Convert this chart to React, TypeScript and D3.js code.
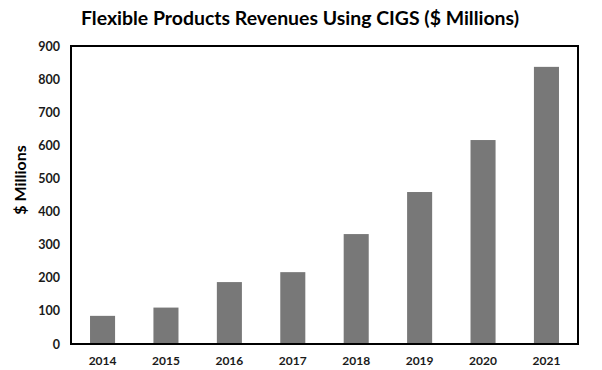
import { useEffect, useRef } from 'react'
import * as d3 from 'd3'

const years = ['2014', '2015', '2016', '2017', '2018', '2019', '2020', '2021']
const revenues = [85, 110, 187, 217, 332, 459, 616, 837]
const yTicks = [0, 100, 200, 300, 400, 500, 600, 700, 800, 900]

const W = 602
const H = 370
const BOX = { left: 71, right: 578, top: 46, bottom: 344 }
const FONT = 'Lato, "Open Sans", sans-serif'

export default function App() {
  const svgRef = useRef<SVGSVGElement>(null)

  useEffect(() => {
    if (!svgRef.current) return
    const svg = d3.select(svgRef.current)
    svg.selectAll('*').remove()

    const x = d3.scaleBand().domain(years).range([BOX.left, BOX.right]).paddingInner(0.605).paddingOuter(0.3)
    const y = d3.scaleLinear().domain([0, 900]).range([BOX.bottom, BOX.top])

    svg.append('rect').attr('width', W).attr('height', H).attr('fill', '#fff')

    // title
    svg.append('text')
      .attr('x', 81).attr('y', 25)
      .attr('textLength', 438).attr('lengthAdjust', 'spacingAndGlyphs')
      .style('font-family', FONT).style('font-weight', 700).style('font-size', '18px')
      .text('Flexible Products Revenues Using CIGS ($ Millions)')

    // bars
    svg.append('g')
      .selectAll('rect')
      .data(revenues)
      .join('rect')
      .attr('x', (_, i) => x(years[i])!)
      .attr('width', x.bandwidth())
      .attr('y', d => y(d))
      .attr('height', d => y(0) - y(d))
      .attr('fill', '#787878')

    // frame
    svg.append('rect')
      .attr('x', BOX.left).attr('y', BOX.top)
      .attr('width', BOX.right - BOX.left).attr('height', BOX.bottom - BOX.top)
      .attr('fill', 'none').attr('stroke', '#000').attr('stroke-width', 2)

    // y tick labels
    svg.append('g')
      .selectAll('text')
      .data(yTicks)
      .join('text')
      .attr('x', 60)
      .attr('y', d => y(d) + 4.5)
      .attr('text-anchor', 'end')
      .style('font-family', FONT).style('font-weight', 700).style('font-size', '12.5px')
      .attr('fill', '#1a1a1a')
      .text(d => d)

    // x tick labels
    svg.append('g')
      .selectAll('text')
      .data(years)
      .join('text')
      .attr('x', d => x(d)! + x.bandwidth() / 2)
      .attr('y', 365)
      .attr('text-anchor', 'middle')
      .style('font-family', FONT).style('font-weight', 700).style('font-size', '12px')
      .attr('fill', '#1a1a1a')
      .text(d => d)

    // y axis title
    svg.append('text')
      .attr('transform', 'translate(26,180) rotate(-90)')
      .attr('text-anchor', 'middle')
      .style('font-family', FONT).style('font-weight', 700).style('font-size', '16px')
      .text('$ Millions')
  }, [])

  return (
    <div style={{ position: 'fixed', left: 0, top: 0 }}>
      <svg ref={svgRef} width={W} height={H} style={{ display: 'block' }} />
    </div>
  )
}
